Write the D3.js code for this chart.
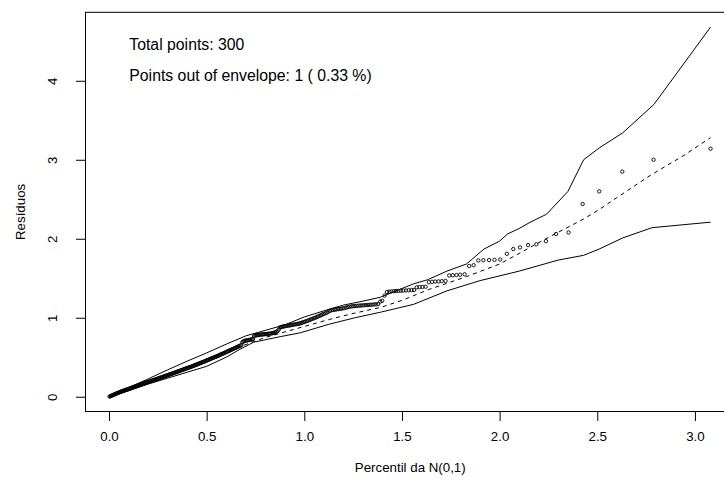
<!DOCTYPE html>
<html><head><meta charset="utf-8">
<script src="https://cdn.jsdelivr.net/npm/d3@7"></script>
<style>body{margin:0;background:#fff;} svg{display:block;font-family:"Liberation Sans",Arial,Helvetica,sans-serif;}</style>
</head><body><svg id="c" width="724" height="488"></svg>
<script>
// Half-normal quantiles (x) and sorted absolute residuals (y)
const xq = [0.003,0.007,0.011,0.015,0.019,0.024,0.028,0.032,0.036,0.040,0.044,0.049,0.053,0.057,0.061,0.065,0.069,0.074,0.078,0.082,0.086,0.090,0.094,0.099,
0.103,0.107,0.111,0.116,0.120,0.124,0.128,0.133,0.137,0.141,0.145,0.149,0.154,0.158,0.162,0.166,0.171,0.175,0.179,0.184,0.188,0.192,0.196,
0.200,0.204,0.209,0.213,0.217,0.222,0.226,0.230,0.235,0.239,0.243,0.248,0.252,0.256,0.260,0.265,0.269,0.273,0.278,0.282,0.286,0.291,0.295,0.299,
0.304,0.308,0.312,0.317,0.321,0.326,0.330,0.335,0.339,0.344,0.348,0.352,0.357,0.361,0.366,0.370,0.375,0.379,0.383,0.388,0.392,0.397,
0.401,0.406,0.411,0.415,0.420,0.424,0.429,0.434,0.438,0.443,0.447,0.452,0.457,0.461,0.466,0.470,0.475,0.480,0.484,0.489,0.494,0.498,
0.503,0.508,0.513,0.518,0.522,0.527,0.532,0.537,0.542,0.547,0.552,0.557,0.562,0.567,0.571,0.576,0.581,0.586,0.591,0.596,
0.601,0.606,0.611,0.616,0.621,0.626,0.631,0.637,0.642,0.647,0.652,0.657,0.662,0.668,0.673,0.678,0.683,0.688,0.693,0.698,
0.704,0.709,0.715,0.720,0.726,0.732,0.737,0.743,0.748,0.754,0.759,0.765,0.770,0.776,0.781,0.787,0.792,0.798,
0.804,0.810,0.816,0.822,0.828,0.834,0.839,0.845,0.851,0.857,0.863,0.869,0.875,0.881,0.887,0.893,0.899,
0.906,0.913,0.919,0.926,0.932,0.939,0.945,0.952,0.959,0.965,0.972,0.978,0.985,0.991,0.998,
1.005,1.012,1.020,1.027,1.034,1.041,1.049,1.056,1.063,1.070,1.078,1.085,1.092,1.099,
1.107,1.115,1.123,1.131,1.140,1.148,1.156,1.164,1.172,1.180,1.188,1.196,
1.205,1.214,1.223,1.232,1.241,1.250,1.259,1.268,1.277,1.286,1.295,
1.305,1.316,1.326,1.336,1.347,1.357,1.368,1.378,1.389,1.399,
1.411,1.423,1.435,1.446,1.458,1.470,1.482,1.494,
1.507,1.521,1.535,1.549,1.562,1.576,1.590,
1.605,1.621,1.638,1.654,1.670,1.687,
1.704,1.723,1.742,1.760,1.779,1.798,
1.821,1.844,1.867,1.891,
1.917,1.946,1.974,2.003,
2.037,2.070,2.104,2.146,2.188,
2.237,2.289,2.353,2.425,2.510,2.628,2.788,3.080];

const res = [0.002,0.006,0.011,0.016,0.020,0.025,0.029,0.034,0.038,0.043,0.047,0.052,0.056,0.060,0.064,0.068,0.071,0.075,0.079,0.083,0.086,0.090,0.093,0.097,
0.101,0.104,0.108,0.112,0.116,0.120,0.124,0.127,0.131,0.135,0.139,0.142,0.146,0.150,0.154,0.157,0.161,0.165,0.168,0.172,0.176,0.179,0.183,
0.187,0.190,0.194,0.198,0.201,0.205,0.209,0.212,0.216,0.220,0.223,0.227,0.231,0.234,0.238,0.242,0.245,0.249,0.253,0.256,0.260,0.264,0.268,0.272,
0.276,0.279,0.283,0.287,0.291,0.295,0.299,0.303,0.307,0.311,0.315,0.319,0.323,0.327,0.331,0.335,0.339,0.343,0.347,0.351,0.355,0.359,
0.363,0.367,0.371,0.375,0.379,0.383,0.388,0.392,0.397,0.401,0.406,0.410,0.415,0.419,0.424,0.428,0.433,0.438,0.442,0.447,0.452,0.457,
0.462,0.467,0.472,0.477,0.482,0.487,0.492,0.497,0.502,0.507,0.512,0.517,0.523,0.528,0.533,0.539,0.544,0.550,0.555,0.561,
0.566,0.572,0.578,0.583,0.589,0.595,0.600,0.606,0.612,0.618,0.624,0.630,0.636,0.642,0.648,0.655,0.690,0.700,0.705,0.710,
0.712,0.715,0.718,0.720,0.723,0.726,0.730,0.770,0.775,0.778,0.780,0.782,0.784,0.786,0.788,0.789,0.791,0.792,
0.793,0.795,0.797,0.799,0.801,0.803,0.806,0.810,0.815,0.822,0.830,0.850,0.875,0.882,0.886,0.889,0.892,
0.895,0.898,0.901,0.904,0.907,0.910,0.913,0.916,0.919,0.922,0.925,0.929,0.934,0.940,0.946,
0.952,0.958,0.965,0.972,0.979,0.986,0.993,1.000,1.008,1.016,1.024,1.032,1.040,1.048,
1.056,1.064,1.075,1.088,1.095,1.099,1.103,1.106,1.109,1.112,1.115,1.118,
1.122,1.128,1.135,1.140,1.143,1.146,1.148,1.150,1.152,1.154,1.156,
1.158,1.160,1.162,1.164,1.166,1.168,1.170,1.173,1.205,1.215,
1.280,1.325,1.330,1.333,1.336,1.338,1.340,1.342,
1.344,1.346,1.348,1.350,1.352,1.385,1.388,
1.390,1.393,1.450,1.455,1.458,1.460,
1.463,1.466,1.535,1.538,1.540,1.545,
1.550,1.655,1.665,1.725,
1.728,1.730,1.733,1.737,
1.81,1.87,1.89,1.92,1.93,
1.97,2.06,2.08,2.44,2.60,2.85,3.00,3.14];

// Simulated envelope: upper, median (dashed) and lower bands
const upX = [0.003,0.1,0.2,0.3,0.4,0.5,0.6,0.7,0.8,0.9,1.0,1.13,1.2,1.3,1.39,1.5,1.56,1.63,1.73,1.83,1.92,2.0,2.04,2.1,2.15,2.19,2.24,2.35,2.43,2.51,2.63,2.79,3.08];
const upY = [0.012,0.115,0.225,0.34,0.45,0.555,0.665,0.77,0.84,0.91,1.01,1.11,1.16,1.21,1.26,1.37,1.43,1.48,1.59,1.68,1.87,1.97,2.06,2.13,2.20,2.25,2.31,2.60,3.00,3.15,3.34,3.70,4.68];
const mdX = [0.003,0.2,0.4,0.6,0.8,0.9,1.0,1.13,1.26,1.39,1.5,1.64,1.83,2.0,2.09,2.17,2.26,2.43,2.51,2.6,2.77,2.94,3.08];
const mdY = [0.003,0.19,0.38,0.57,0.75,0.82,0.89,0.98,1.06,1.13,1.22,1.36,1.52,1.68,1.80,1.91,2.03,2.25,2.37,2.52,2.80,3.05,3.28];
const loX = [0.003,0.1,0.2,0.3,0.4,0.5,0.6,0.67,0.74,0.876,0.98,1.13,1.26,1.39,1.56,1.73,1.9,2.1,2.3,2.43,2.51,2.63,2.78,3.08];
const loY = [0.0,0.075,0.16,0.235,0.31,0.385,0.50,0.60,0.69,0.76,0.81,0.92,1.00,1.07,1.17,1.34,1.47,1.59,1.73,1.79,1.87,2.01,2.14,2.21];

const xTicks = [0, 0.5, 1, 1.5, 2, 2.5, 3];
const yTicks = [0, 1, 2, 3, 4];
const xTitle = "Percentil da N(0,1)";
const yTitle = "Resíduos";
const notes = ["Total points: 300", "Points out of envelope: 1 ( 0.33 %)"];

const svg = d3.select("#c");
const L = 85.5, R = 735, T = 12.3, B = 411.5;
const x = d3.scaleLinear().domain([-0.1203, 3.2052]).range([L, R]);
const y = d3.scaleLinear().domain([-0.187, 4.867]).range([B, T]);

// envelope lines
const line = d3.line().x(d => x(d[0])).y(d => y(d[1]));
function drawLine(xs, ys, dash) {
  svg.append("path").datum(xs.map((v, i) => [v, ys[i]]))
    .attr("d", line).attr("fill", "none").attr("stroke", "#000")
    .attr("stroke-width", 1).attr("stroke-dasharray", dash || null);
}
drawLine(upX, upY);
drawLine(loX, loY);
drawLine(mdX, mdY, "4,4");

// points
svg.append("g").selectAll("circle").data(xq.map((v, i) => [v, res[i]])).join("circle")
  .attr("cx", d => x(d[0])).attr("cy", d => y(d[1])).attr("r", 1.7)
  .attr("fill", "none").attr("stroke", "#000").attr("stroke-width", 0.9);

// box
svg.append("rect").attr("x", L).attr("y", T).attr("width", R - L).attr("height", B - T)
  .attr("fill", "none").attr("stroke", "#000").attr("stroke-width", 1);

// x axis
const xa = svg.append("g").attr("transform", `translate(0,${B})`)
  .call(d3.axisBottom(x).tickValues(xTicks).tickFormat(d3.format(".1f")).tickSize(9.5).tickSizeOuter(0));
xa.select(".domain").remove();
xa.selectAll("line").attr("stroke", "#000");
xa.selectAll("text").attr("y", 29).attr("dy", null).attr("font-size", 13.3)
  .attr("font-family", "Liberation Sans, Arial, sans-serif").attr("fill", "#000");

// y axis
const ya = svg.append("g").attr("transform", `translate(${L},0)`)
  .call(d3.axisLeft(y).tickValues(yTicks).tickFormat(d3.format("d")).tickSize(9.5).tickSizeOuter(0));
ya.select(".domain").remove();
ya.selectAll("line").attr("stroke", "#000");
ya.selectAll("text").attr("x", null).attr("dy", null).attr("text-anchor", "middle")
  .attr("transform", "translate(-28.8,0) rotate(-90)")
  .attr("font-size", 13.3).attr("font-family", "Liberation Sans, Arial, sans-serif").attr("fill", "#000");

// titles
svg.append("text").attr("x", (L + R) / 2).attr("y", 472).attr("text-anchor", "middle")
  .attr("font-size", 13.3).text(xTitle);
svg.append("text").attr("transform", `translate(24.7,${(T + B) / 2}) rotate(-90)`)
  .attr("text-anchor", "middle").attr("font-size", 13.3).text(yTitle);

// notes
svg.selectAll("text.note").data(notes).join("text").attr("class", "note")
  .attr("x", 129.3).attr("y", (d, i) => 50 + i * 31).attr("font-size", 15.8).text(d => d);
</script></body></html>
